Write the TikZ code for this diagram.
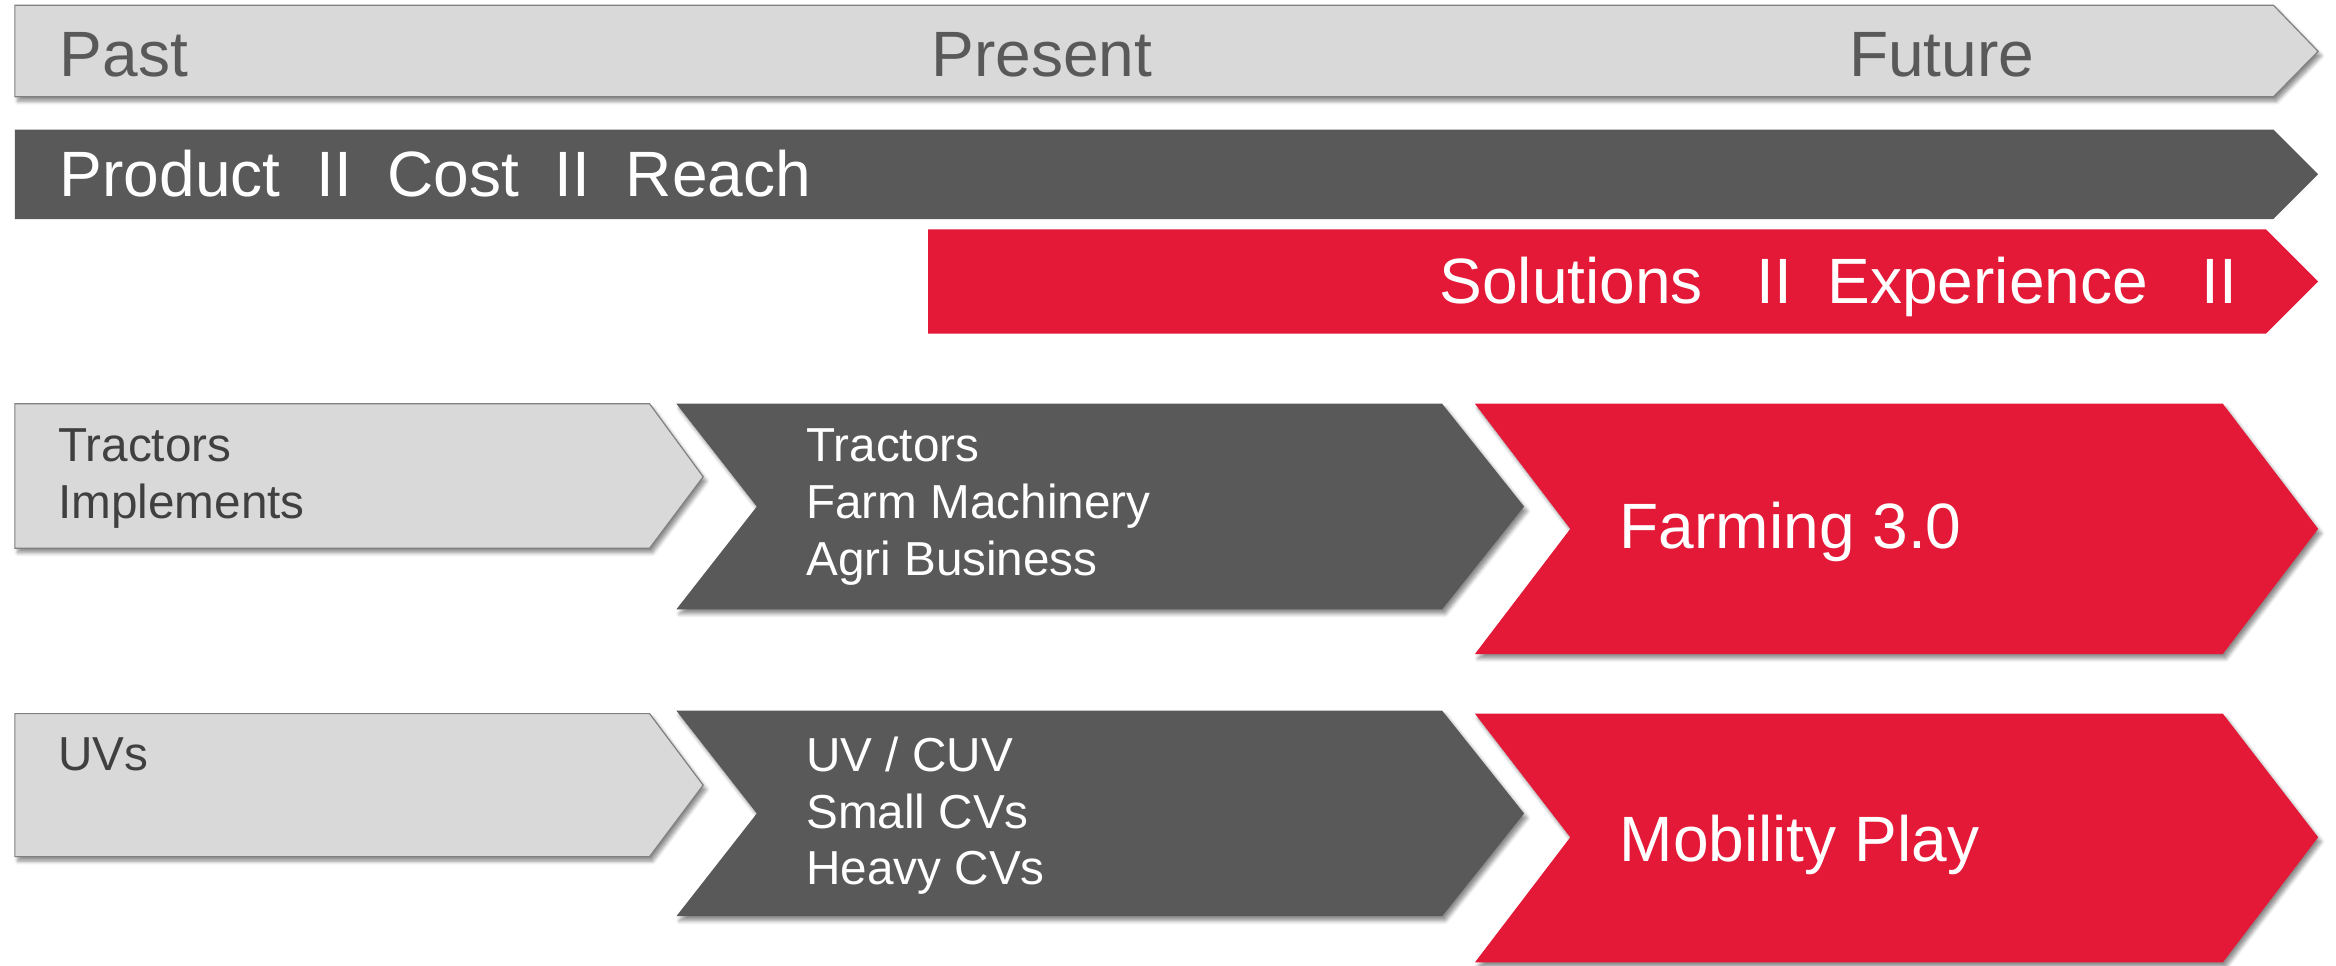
\documentclass[tikz,border=0pt]{standalone}
\usepackage{fontspec}
\setmainfont{Liberation Sans}
\usetikzlibrary{shadows.blur}
\definecolor{lgray}{HTML}{D9D9D9}
\definecolor{bgray}{HTML}{808080}
\definecolor{dgray}{HTML}{595959}
\definecolor{mred}{HTML}{E31937}
\definecolor{tgray}{HTML}{404040}
\begin{document}
\begin{tikzpicture}[x=1pt,y=-1pt,
  shad/.style={blur shadow={shadow xshift=2pt, shadow yshift=-3pt, shadow blur radius=2.5pt, shadow blur steps=6, shadow opacity=45}},
  lightshape/.style={fill=lgray, draw=bgray, line width=0.8pt, line join=miter, shad},
  darkshape/.style={fill=dgray, shad},
  redshape/.style={fill=mred, shad},
  bigtxt/.style={inner sep=0pt, anchor=base west, font=\fontsize{43}{50}\selectfont},
  smalltxt/.style={inner sep=0pt, anchor=base west, font=\fontsize{32}{38}\selectfont}]
\useasboundingbox (0,0) rectangle (1568,648);

% timeline bar
\path[lightshape] (10,3.5) -- (1526,3.5) -- (1556,34.5) -- (1526,65) -- (10,65) -- cycle;
\node[bigtxt, text=dgray] (past) at (40,51.5) {Past};
\node[bigtxt, text=dgray] (present) at (625,51.5) {Present};
\node[bigtxt, text=dgray] (future) at (1241,51.5) {Future};

% product bar
\path[fill=dgray] (10,87) -- (1526,87) -- (1556,117) -- (1526,147) -- (10,147) -- cycle;
\node[bigtxt, text=white] (prod) at (40,132) {Product~~II~~Cost~~II~~Reach};

% solutions bar
\path[fill=mred] (623,154) -- (1521,154) -- (1556,189) -- (1521,224) -- (623,224) -- cycle;
\node[bigtxt, text=white] (sol) at (966,204) {Solutions~~~II~~Experience~~~II};

% row 1
\path[lightshape] (10,271) -- (436,271) -- (472,320) -- (436,368) -- (10,368) -- cycle;
\path[darkshape] (454,271) -- (968,271) -- (1023,340) -- (968,409) -- (454,409) -- (508,340) -- cycle;
\path[redshape] (990,271) -- (1492,271) -- (1556,355) -- (1492,439) -- (990,439) -- (1054,355) -- cycle;
\node[smalltxt, text=tgray] (p1a) at (39,310) {Tractors};
\node[smalltxt, text=tgray] (p1b) at (39,348) {Implements};
\node[smalltxt, text=white] (n1a) at (541,310) {Tractors};
\node[smalltxt, text=white] (n1b) at (541,348) {Farm Machinery};
\node[smalltxt, text=white] (n1c) at (541,386) {Agri Business};
\node[bigtxt, text=white] (f1) at (1087,368) {Farming 3.0};

% row 2
\path[lightshape] (10,479) -- (436,479) -- (472,527) -- (436,575) -- (10,575) -- cycle;
\path[darkshape] (454,477) -- (968,477) -- (1023,546) -- (968,615) -- (454,615) -- (508,546) -- cycle;
\path[redshape] (990,479) -- (1492,479) -- (1556,562) -- (1492,646) -- (990,646) -- (1054,562) -- cycle;
\node[smalltxt, text=tgray] (p2a) at (39,517) {UVs};
\node[smalltxt, text=white] (n2a) at (541,518) {UV / CUV};
\node[smalltxt, text=white] (n2b) at (541,556) {Small CVs};
\node[smalltxt, text=white] (n2c) at (541,594) {Heavy CVs};
\node[bigtxt, text=white] (f2) at (1087,578) {Mobility Play};
\end{tikzpicture}
\end{document}
